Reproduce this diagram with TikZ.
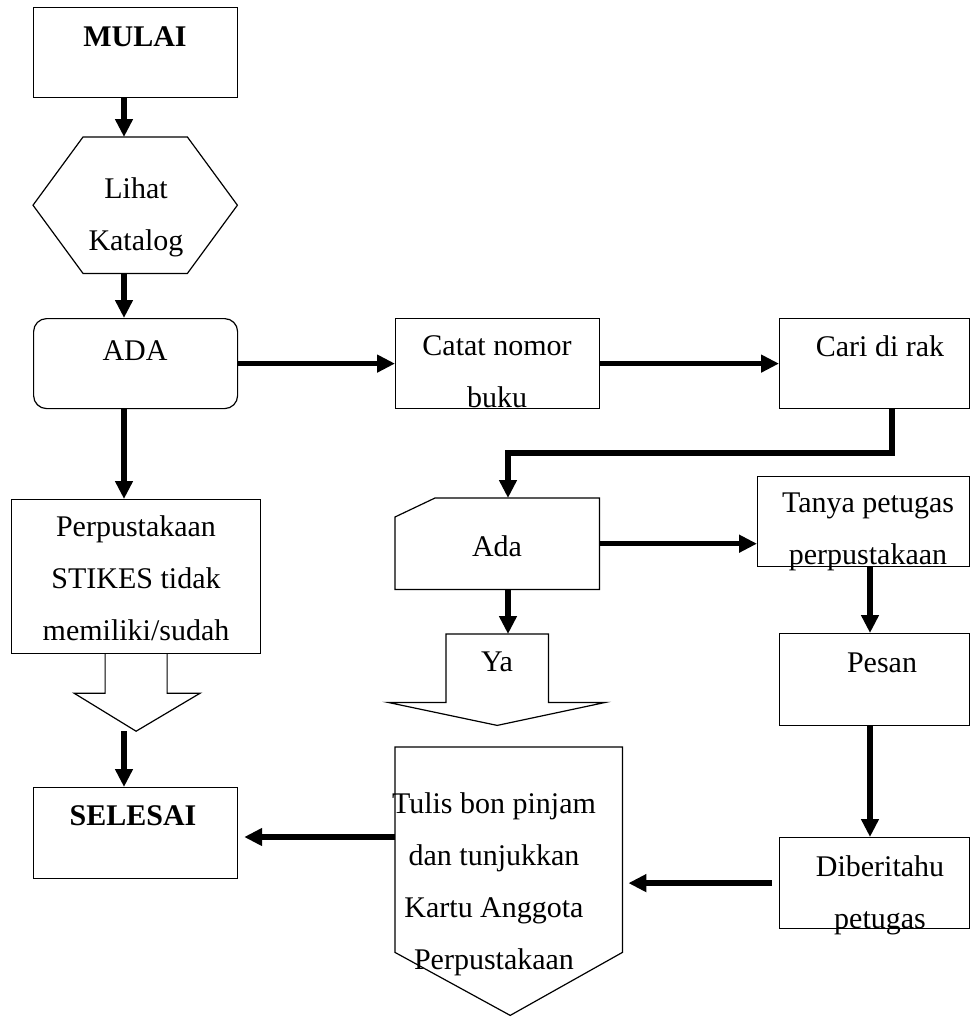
\documentclass[tikz,border=0pt]{standalone}
\usepackage{fontspec}
\setmainfont{Liberation Serif}
\usepackage{tikz}
\usetikzlibrary{positioning, arrows.meta, calc}
\tikzstyle{proc}=[%
      rectangle, draw=black, line width=1.2pt, fill=none,
      inner sep=0pt, anchor=north west
]
\tikzstyle{frame}=[%
      rectangle, draw=none, inner sep=0pt, anchor=north west
]
\tikzstyle{txt}=[%
      anchor=north, inner sep=0pt, align=center, font=\fontsize{30}{52}\selectfont
]
\tikzstyle{bold}=[font=\fontsize{30}{52}\selectfont\bfseries]
\tikzstyle{outline}=[line width=1.2pt, line join=miter]
\tikzstyle{flow}=[line width=5.5pt, -{Triangle[length=18pt,width=17pt]}]

\begin{document}
\begin{tikzpicture}[x=1pt, y=-1pt]
    \useasboundingbox (0,0) rectangle (971,1017);
    \clip (0,0) rectangle (971,1017);

    % shapes
    \node[proc, minimum width=204pt, minimum height=90pt] (mulai) at (33,7) {};
    \node[frame, minimum width=204pt, minimum height=136pt] (lihat) at (33,137) {};
    \node[proc, rounded corners=13pt, minimum width=204pt, minimum height=90pt] (ada) at (33,318) {};
    \node[proc, minimum width=204pt, minimum height=90pt] (catat) at (395,318) {};
    \node[proc, minimum width=190pt, minimum height=90pt] (cari) at (779,318) {};
    \node[frame, minimum width=204pt, minimum height=91pt] (cek) at (395,498) {};
    \node[proc, minimum width=212pt, minimum height=90pt] (tanya) at (757,476) {};
    \node[proc, minimum width=249pt, minimum height=154pt] (perpus) at (11,499) {};
    \node[frame, minimum width=102pt, minimum height=68pt] (ya) at (446,634) {};
    \node[proc, minimum width=190pt, minimum height=92pt] (pesan) at (779,633) {};
    \node[frame, minimum width=227pt, minimum height=205pt] (tulis) at (395,747) {};
    \node[proc, minimum width=204pt, minimum height=91pt] (selesai) at (33,787) {};
    \node[proc, minimum width=190pt, minimum height=91pt] (diberi) at (779,837) {};

    \draw[outline] (lihat.west) -- ($(lihat.north west)+(50,0)$) -- ($(lihat.north east)+(-50,0)$)
          -- (lihat.east) -- ($(lihat.south east)+(-50,0)$) -- ($(lihat.south west)+(50,0)$) -- cycle;
    \draw[outline] ($(cek.north west)+(40,0)$) -- (cek.north east) -- (cek.south east)
          -- (cek.south west) -- ($(cek.north west)+(0,19)$) -- cycle;
    \draw[outline] ($(perpus.south)+(31,0)$) -- ++(0,39) -- ++(33,0)
          -- ($(perpus.south)+(0,77)$) coordinate (perpus-tip)
          -- ($(perpus.south)+(-62,39)$) -- ++(31,0) -- ($(perpus.south)+(-31,0)$);
    \draw[outline] (ya.south west) -- (ya.north west) -- (ya.north east) -- (ya.south east)
          -- ++(57,0) -- ($(ya.south)+(0,23)$) -- ($(ya.south west)+(-58,0)$) -- cycle;
    \draw[outline] (tulis.south west) -- (tulis.north west) -- (tulis.north east)
          -- (tulis.south east) -- ($(tulis.south)+(1.5,63)$) -- cycle;

    % texts
    \node[txt, bold] (mulai-t) at (135,26) {MULAI};
    \node[txt] (lihat-t) at (136,177) {Lihat\\Katalog};
    \node[txt] (ada-t) at (135,340) {ADA};
    \node[txt] (catat-t) at (497,335) {Catat nomor\\buku};
    \node[txt] (cari-t) at (880,335) {Cari di rak};
    \node[txt] (perpus-t) at (136,515) {Perpustakaan\\STIKES tidak\\memiliki/sudah};
    \node[txt] (cek-t) at (497,535) {Ada};
    \node[txt] (tanya-t) at (868,493) {Tanya petugas\\perpustakaan};
    \node[txt] (ya-t) at (497,652) {Ya};
    \node[txt] (pesan-t) at (882,653) {Pesan};
    \node[txt] (tulis-t) at (494,792) {Tulis bon pinjam\\dan tunjukkan\\Kartu Anggota\\Perpustakaan};
    \node[txt] (diberi-t) at (880,855) {Diberitahu\\petugas};
    \node[txt, bold] (selesai-t) at (133,805) {SELESAI};

    % connectors
    \coordinate (lcol) at (124,0);
    \coordinate (rcol) at (870,0);
    \coordinate (k1) at (892,453);
    \coordinate (k2) at (508,453);
    \coordinate (k3) at (395,837);

    \draw[flow] (mulai.south -| lcol) -- (lihat.north -| lcol);
    \draw[flow] (lihat.south -| lcol) -- (ada.north -| lcol);
    \draw[flow] (ada.south -| lcol) -- (perpus.north -| lcol);
    \draw[flow] (perpus-tip -| lcol) -- (selesai.north -| lcol);
    \draw[flow] (ada.east) -- (catat.west);
    \draw[flow] (catat.east) -- (cari.west);
    \draw[flow] (cari.south -| k1) -- (k1) -- (k2) -- (cek.north -| k2);
    \draw[flow] (cek.south -| k2) -- (ya.north -| k2);
    \draw[flow] (cek.east) -- (cek.east -| tanya.west);
    \draw[flow] (tanya.south -| rcol) -- (pesan.north -| rcol);
    \draw[flow] (pesan.south -| rcol) -- (diberi.north -| rcol);
    \draw[flow, shorten <=7pt, shorten >=6pt] (diberi.west) -- (diberi.west -| tulis.east);
    \draw[flow, shorten >=6pt] (k3) -- (k3 -| selesai.east);
\end{tikzpicture}
\end{document}
